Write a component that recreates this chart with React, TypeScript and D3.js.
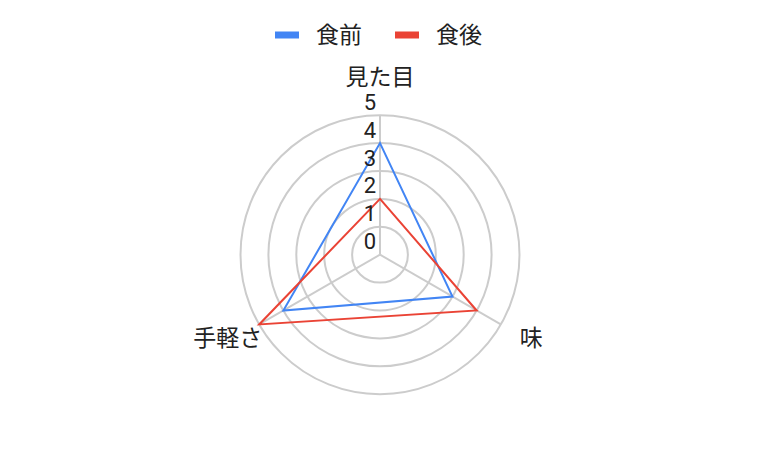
import { useRef, useEffect } from 'react';
import * as d3 from 'd3';

const axes = ['見た目', '味', '手軽さ'];
const seriesNames = ['食前', '食後'];
const before = [4, 3, 4];
const after = [2, 4, 5];
const ticks = [0, 1, 2, 3, 4, 5];

const colors = ['#4285f4', '#ea4335'];
const font = "Roboto, 'Noto Sans CJK JP', sans-serif";

export default function App() {
    const svgRef = useRef<SVGSVGElement>(null);

    useEffect(() => {
        if (!svgRef.current) return;
        const width = 758;
        const height = 470;
        const cx = 380;
        const cy = 254.7;
        const R = 139.5;

        d3.select(svgRef.current).selectAll('*').remove();
        const svg = d3.select(svgRef.current)
            .attr('width', width)
            .attr('height', height);

        const r = d3.scaleLinear().domain([0, 5]).range([0, R]);
        const angle = (i: number) => (-90 + (360 / axes.length) * i) * Math.PI / 180;
        const px = (i: number, v: number) => cx + r(v) * Math.cos(angle(i));
        const py = (i: number, v: number) => cy + r(v) * Math.sin(angle(i));

        const g = svg.append('g');

        // rings
        ticks.filter(t => t > 0).forEach(t => {
            g.append('circle')
                .attr('cx', cx)
                .attr('cy', cy)
                .attr('r', r(t))
                .attr('fill', 'none')
                .attr('stroke', '#cccccc')
                .attr('stroke-width', 2);
        });

        // spokes
        axes.forEach((_, i) => {
            g.append('line')
                .attr('x1', cx).attr('y1', cy)
                .attr('x2', px(i, 5)).attr('y2', py(i, 5))
                .attr('stroke', '#cccccc')
                .attr('stroke-width', 2);
        });

        // series
        const line = d3.line<number>()
            .x((d, i) => px(i, d))
            .y((d, i) => py(i, d))
            .curve(d3.curveLinearClosed);

        [before, after].forEach((vals, k) => {
            g.append('path')
                .attr('d', line(vals))
                .attr('fill', 'none')
                .attr('stroke', colors[k])
                .attr('stroke-width', 2)
                .attr('stroke-linejoin', 'miter');
        });

        // tick labels
        ticks.forEach(t => {
            g.append('text')
                .attr('x', cx - 4)
                .attr('y', cy - r(t) - 5.5)
                .attr('text-anchor', 'end')
                .attr('fill', '#222')
                .style('font-family', font)
                .style('font-size', '22px')
                .text(t);
        });

        // axis labels
        axes.forEach((name, i) => {
            const x = px(i, 5);
            const y = py(i, 5);
            const t = g.append('text')
                .attr('fill', '#222')
                .attr('dominant-baseline', 'central')
                .style('font-family', font)
                .style('font-size', '23px')
                .text(name);
            if (i === 0) {
                t.attr('x', x).attr('y', y - 38).attr('text-anchor', 'middle');
            } else if (x > cx) {
                t.attr('x', x + 19).attr('y', y + 14).attr('text-anchor', 'start');
            } else {
                t.attr('x', x + 3).attr('y', y + 14).attr('text-anchor', 'end');
            }
        });

        // legend
        const legend = svg.append('g').attr('transform', 'translate(275, 35)');
        const offsets = [0, 120];
        seriesNames.forEach((name, k) => {
            const item = legend.append('g').attr('transform', `translate(${offsets[k]}, 0)`);
            item.append('rect')
                .attr('x', 0)
                .attr('y', -3.5)
                .attr('width', 24)
                .attr('height', 7)
                .attr('fill', colors[k]);
            item.append('text')
                .attr('x', 41)
                .attr('y', 0)
                .attr('dominant-baseline', 'central')
                .attr('fill', '#222')
                .style('font-family', font)
                .style('font-size', '23px')
                .text(name);
        });
    }, []);

    return (
        <svg ref={svgRef} style={{ position: 'absolute', left: 0, top: 0, background: '#fff' }}></svg>
    );
}
